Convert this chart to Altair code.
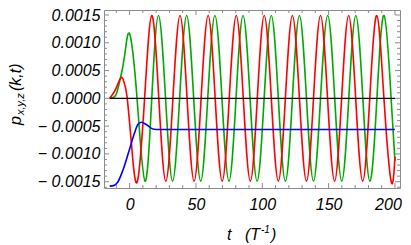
import altair as alt
import pandas as pd

# ---- data ----
red_t = [-15, -12, -9.5, -6.2, -4, -1.8, 1.7, 5.9, 11.3, 16.7, 22.0, 27.3, 32.65, 38.0, 43.3,
         48.6, 53.9, 59.2, 64.5, 69.8, 75.1, 80.4, 85.7, 91.0, 96.25, 101.5, 106.8, 112.1,
         117.4, 122.7, 128.0, 133.3, 138.6, 143.9, 149.2, 154.5, 159.8, 165.1, 170.4, 175.7,
         181.0, 186.3, 191.7, 197.1, 200]
red_p = [0, 0.0001, 0.00022, 0.00038, 0.00027, 0, -0.00091, -0.00149, 0, 0.00149, 0, -0.00149, 0, 0.00149, 0,
         -0.00149, 0, 0.00149, 0, -0.00149, 0, 0.00149, 0, -0.00149, 0, 0.00149, 0, -0.00149,
         0, 0.00149, 0, -0.00149, 0, 0.00149, 0, -0.00149, 0, 0.00149, 0, -0.00149,
         0, 0.00149, 0, -0.00149, -0.00105]

green_t = [-15, -12, -10, -7.5, -3.75, 0, 5.6, 11.6, 16.7, 21.75, 27.1, 32.4, 37.7, 43.0, 48.3,
           53.6, 58.9, 64.3, 69.6, 74.9, 80.2, 85.5, 90.8, 96.1, 101.4, 106.8, 112.1, 117.4,
           122.7, 128.0, 133.3, 138.6, 143.9, 149.3, 154.6, 159.9, 165.2, 170.5, 175.8, 181.1,
           186.4, 191.8, 197.1, 200]
green_p = [0, 0.00002, 0.00008, 0.0003, 0.00077, 0.00116, 0, -0.00149, 0, 0.00149, 0, -0.00149, 0, 0.00149, 0,
           -0.00149, 0, 0.00149, 0, -0.00149, 0, 0.00149, 0, -0.00149, 0, 0.00149, 0, -0.00149,
           0, 0.00149, 0, -0.00149, 0, 0.00149, 0, -0.00149, 0, 0.00149, 0, -0.00149,
           0, 0.00149, 0, -0.00113]

blue_t = [-15, -12, -9, -5, 0, 3.75, 6.2, 8.8, 12.5, 17.5, 22.5, 200]
blue_p = [-0.00158, -0.00157, -0.00151, -0.00129, -0.00091, -0.00062, -0.00047, -0.00043,
          -0.00047, -0.00055, -0.00056, -0.00056]

zero_t = [-15, 200]
zero_p = [0, 0]

x_major = [0, 50, 100, 150, 200]
x_minor = [-10, 10, 20, 30, 40, 60, 70, 80, 90, 110, 120, 130, 140, 160, 170, 180, 190]
y_major = [-0.0015, -0.001, -0.0005, 0.0, 0.0005, 0.001, 0.0015]
y_minor = [-0.0016, -0.0014, -0.0013, -0.0012, -0.0011, -0.0009, -0.0008, -0.0007, -0.0006,
           -0.0004, -0.0003, -0.0002, -0.0001, 0.0001, 0.0002, 0.0003, 0.0004, 0.0006,
           0.0007, 0.0008, 0.0009, 0.0011, 0.0012, 0.0013, 0.0014]

# ---- layout ----
W, H = 296, 178
FONT = "Liberation Sans"
TICK = "#8c8c8c"
xs = alt.Scale(domain=[-19.3, 203.8], nice=False, zero=False)
ys = alt.Scale(domain=[-0.001613, 0.00159], nice=False, zero=False)

x_axis = alt.Axis(values=x_major, title=None, grid=False, ticks=False, tickSize=0, domain=False,
                  labelFont=FONT, labelFontSize=16, labelFontStyle="italic", labelColor="black",
                  labelPadding=8, labelFlush=False, labelOverlap=False,
                  labelOffset={"condition": {"test": "datum.value === 200", "value": -7}, "value": 0})
y_axis = alt.Axis(values=y_major, title=None, grid=False, ticks=False, tickSize=0, domain=False,
                  labelFont=FONT, labelFontSize=16, labelFontStyle="italic", labelColor="black",
                  labelPadding=4, labelFlush=False, labelOverlap=False,
                  labelExpr="datum.value < 0 ? '\u2212 ' + format(-datum.value, '.4f') : format(datum.value, '.4f')")


def line(t, p, color, interp, width=1.6):
    df = pd.DataFrame({"t": t, "p": p})
    return alt.Chart(df).mark_line(color=color, strokeWidth=width, interpolate=interp).encode(
        x=alt.X("t:Q", scale=xs, axis=x_axis),
        y=alt.Y("p:Q", scale=ys, axis=y_axis),
    )


def xticks(vals, length, top):
    df = pd.DataFrame({"t": vals})
    y0, y1 = (0, length) if top else (H, H - length)
    return alt.Chart(df).mark_rule(color=TICK, strokeWidth=1).encode(
        x=alt.X("t:Q", scale=xs, axis=x_axis), y=alt.value(y0), y2=alt.value(y1))


def yticks(vals, length, right):
    df = pd.DataFrame({"p": vals})
    x0, x1 = (W, W - length) if right else (0, length)
    return alt.Chart(df).mark_rule(color=TICK, strokeWidth=1).encode(
        y=alt.Y("p:Q", scale=ys, axis=y_axis), x=alt.value(x0), x2=alt.value(x1))


def label(text, x, y, size, angle=0, align="left"):
    return alt.Chart(pd.DataFrame({"a": [0]})).mark_text(
        text=text, font=FONT, fontSize=size, fontStyle="italic", color="black",
        angle=angle, align=align, baseline="alphabetic").encode(x=alt.value(x), y=alt.value(y))


layers = [
    line(green_t, green_p, "#00a800", "natural"),
    line(red_t, red_p, "#ff0000", "natural"),
    line(blue_t, blue_p, "#0000ff", "monotone"),
    line(zero_t, zero_p, "#000000", "linear", width=1.1),
    xticks(x_major, 5, False), xticks(x_minor, 3, False),
    xticks(x_major, 5, True), xticks(x_minor, 3, True),
    yticks(y_major, 5, False), yticks(y_minor, 3, False),
    yticks(y_major, 5, True), yticks(y_minor, 3, True),
    # y title  p_{x,y,z}(k,t)
    label("p", -83, 115, 16, angle=270),
    label("x,y,z", -80.5, 105, 11, angle=270),
    label("(k,t)", -83, 81, 16, angle=270),
    # x title  t (T^-1)
    label("t", 123, 230, 16),
    label("(T", 141, 230, 16),
    label("-1", 157, 223, 10),
    label(")", 167, 230, 16),
]

chart = alt.layer(*layers).properties(
    width=W, height=H,
    autosize=alt.AutoSizeParams(type="none"),
    padding={"left": 96, "top": 2, "right": 3, "bottom": 55},
).configure_view(stroke="#8c8c8c", strokeWidth=1)

chart.save("out.html", embed_options={"renderer": "svg", "actions": False})
